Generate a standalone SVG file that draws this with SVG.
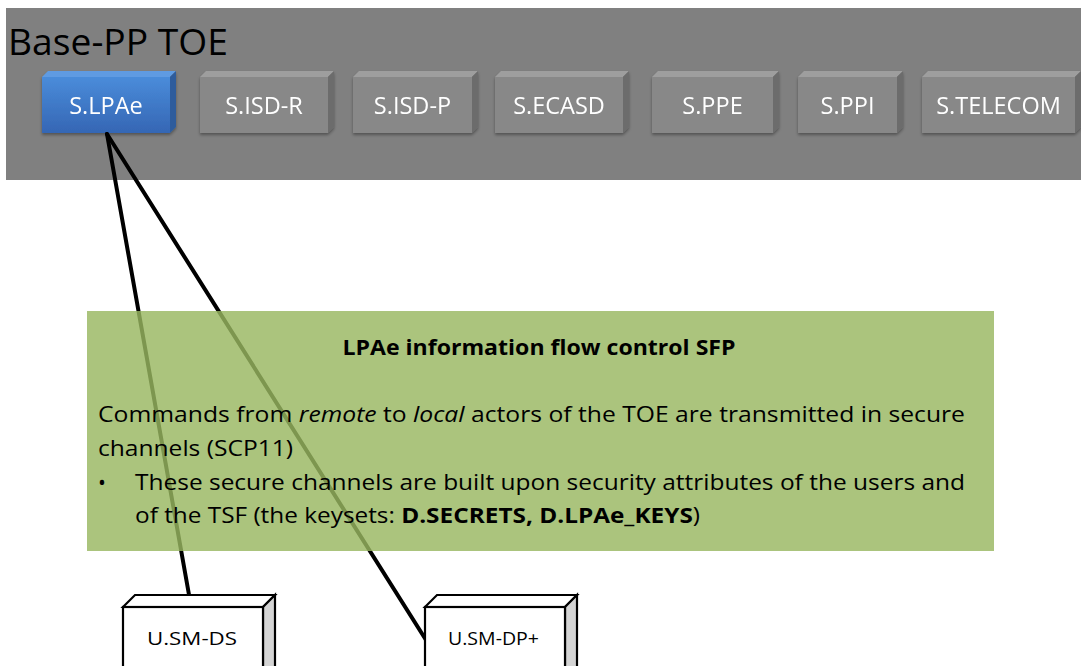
<svg xmlns="http://www.w3.org/2000/svg" width="1081" height="666" viewBox="0 0 1081 666">
<defs>
<style>
.lbl{font-family:"Open Sans","Liberation Sans",sans-serif;font-size:23.5px;fill:#ffffff;text-anchor:middle}
.gf{fill:#888888}.gt{fill:#9e9e9e}.gr{fill:#6c6c6c}
.body{font-family:"Open Sans","Liberation Sans",sans-serif;font-size:21px;fill:#000000}
.ul{font-family:"Open Sans","Liberation Sans",sans-serif;font-size:19px;fill:#000000;text-anchor:middle}
.conn{stroke:#000000;stroke-width:4;fill:none;stroke-linecap:round}
.ubox{stroke:#000000;stroke-width:2.2;stroke-linejoin:miter}
</style>
<linearGradient id="blue" x1="0" y1="0" x2="0" y2="1">
<stop offset="0" stop-color="#4a8cda"/>
<stop offset="1" stop-color="#3566b4"/>
</linearGradient>
<filter id="sh" x="-10%" y="-10%" width="120%" height="130%">
<feDropShadow dx="0" dy="2" stdDeviation="1.5" flood-color="#000000" flood-opacity="0.35"/>
</filter>
</defs>
<g id="panel">
<rect x="6" y="8" width="1075" height="172" fill="#808080"/>
<text x="8" y="55" font-family="Open Sans, Liberation Sans, sans-serif" font-size="37" fill="#000000" textLength="220" lengthAdjust="spacingAndGlyphs">Base-PP TOE</text>
</g>
<g id="s-lpae" filter="url(#sh)">
<rect x="42" y="77" width="128" height="56" fill="url(#blue)"/>
<polygon points="42,77 48,71 176,71 170,77" fill="#5f9be2"/>
<polygon points="170,77 176,71 176,127 170,133" fill="#2d5c9c"/>
<text class="lbl" x="106" y="114">S.LPAe</text>
</g>
<g id="s-isd-r" filter="url(#sh)">
<rect class="gf" x="200" y="77" width="128" height="56"/>
<polygon class="gt" points="200,77 206,71 334,71 328,77"/>
<polygon class="gr" points="328,77 334,71 334,127 328,133"/>
<text class="lbl" x="264" y="114">S.ISD-R</text>
</g>
<g id="s-isd-p" filter="url(#sh)">
<rect class="gf" x="353" y="77" width="119" height="56"/>
<polygon class="gt" points="353,77 359,71 478,71 472,77"/>
<polygon class="gr" points="472,77 478,71 478,127 472,133"/>
<text class="lbl" x="412.5" y="114">S.ISD-P</text>
</g>
<g id="s-ecasd" filter="url(#sh)">
<rect class="gf" x="495" y="77" width="128" height="56"/>
<polygon class="gt" points="495,77 501,71 629,71 623,77"/>
<polygon class="gr" points="623,77 629,71 629,127 623,133"/>
<text class="lbl" x="559" y="114">S.ECASD</text>
</g>
<g id="s-ppe" filter="url(#sh)">
<rect class="gf" x="652" y="77" width="121" height="56"/>
<polygon class="gt" points="652,77 658,71 779,71 773,77"/>
<polygon class="gr" points="773,77 779,71 779,127 773,133"/>
<text class="lbl" x="712.5" y="114">S.PPE</text>
</g>
<g id="s-ppi" filter="url(#sh)">
<rect class="gf" x="798" y="77" width="99" height="56"/>
<polygon class="gt" points="798,77 804,71 903,71 897,77"/>
<polygon class="gr" points="897,77 903,71 903,127 897,133"/>
<text class="lbl" x="847.5" y="114">S.PPI</text>
</g>
<g id="s-telecom" filter="url(#sh)">
<rect class="gf" x="922" y="77" width="153" height="56"/>
<polygon class="gt" points="922,77 928,71 1081,71 1075,77"/>
<polygon class="gr" points="1075,77 1081,71 1081,127 1075,133"/>
<text class="lbl" x="998.5" y="114">S.TELECOM</text>
</g>
<g id="connectors">
<line class="conn" x1="107" y1="134" x2="191" y2="606"/>
<line class="conn" x1="107" y1="134" x2="426" y2="640"/>
</g>
<g id="sfp">
<rect x="87" y="311" width="907" height="240" fill="rgb(152,183,96)" fill-opacity="0.82"/>
<text x="539" y="355" font-family="Open Sans, Liberation Sans, sans-serif" font-size="21" font-weight="bold" fill="#000000" text-anchor="middle" textLength="393" lengthAdjust="spacingAndGlyphs">LPAe information flow control SFP</text>
<text class="body" x="98" y="422" textLength="867" lengthAdjust="spacingAndGlyphs">Commands from <tspan font-style="italic">remote</tspan> to <tspan font-style="italic">local</tspan> actors of the TOE are transmitted in secure</text>
<text class="body" x="98" y="456" textLength="195" lengthAdjust="spacingAndGlyphs">channels (SCP11)</text>
<text class="body" x="98" y="490" font-size="25">•</text>
<text class="body" x="135" y="490" textLength="830" lengthAdjust="spacingAndGlyphs">These secure channels are built upon security attributes of the users and</text>
<text class="body" x="135" y="523" textLength="565" lengthAdjust="spacingAndGlyphs">of the TSF (the keysets: <tspan font-weight="bold">D.SECRETS, D.LPAe_KEYS</tspan>)</text>
</g>
<g id="u-sm-ds">
<polygon class="ubox" points="123,607 135,595 275,595 263,607" fill="#ffffff"/>
<polygon class="ubox" points="263,607 275,595 275,668 263,680" fill="#d4d4d4"/>
<rect class="ubox" x="123" y="607" width="140" height="73" fill="#ffffff"/>
<text class="ul" x="192" y="645" textLength="90" lengthAdjust="spacingAndGlyphs">U.SM-DS</text>
</g>
<g id="u-sm-dp">
<polygon class="ubox" points="425,607 437,595 577,595 565,607" fill="#ffffff"/>
<polygon class="ubox" points="565,607 577,595 577,668 565,680" fill="#d4d4d4"/>
<rect class="ubox" x="425" y="607" width="140" height="73" fill="#ffffff"/>
<text class="ul" x="493.5" y="645" textLength="91" lengthAdjust="spacingAndGlyphs">U.SM-DP+</text>
</g>
</svg>
